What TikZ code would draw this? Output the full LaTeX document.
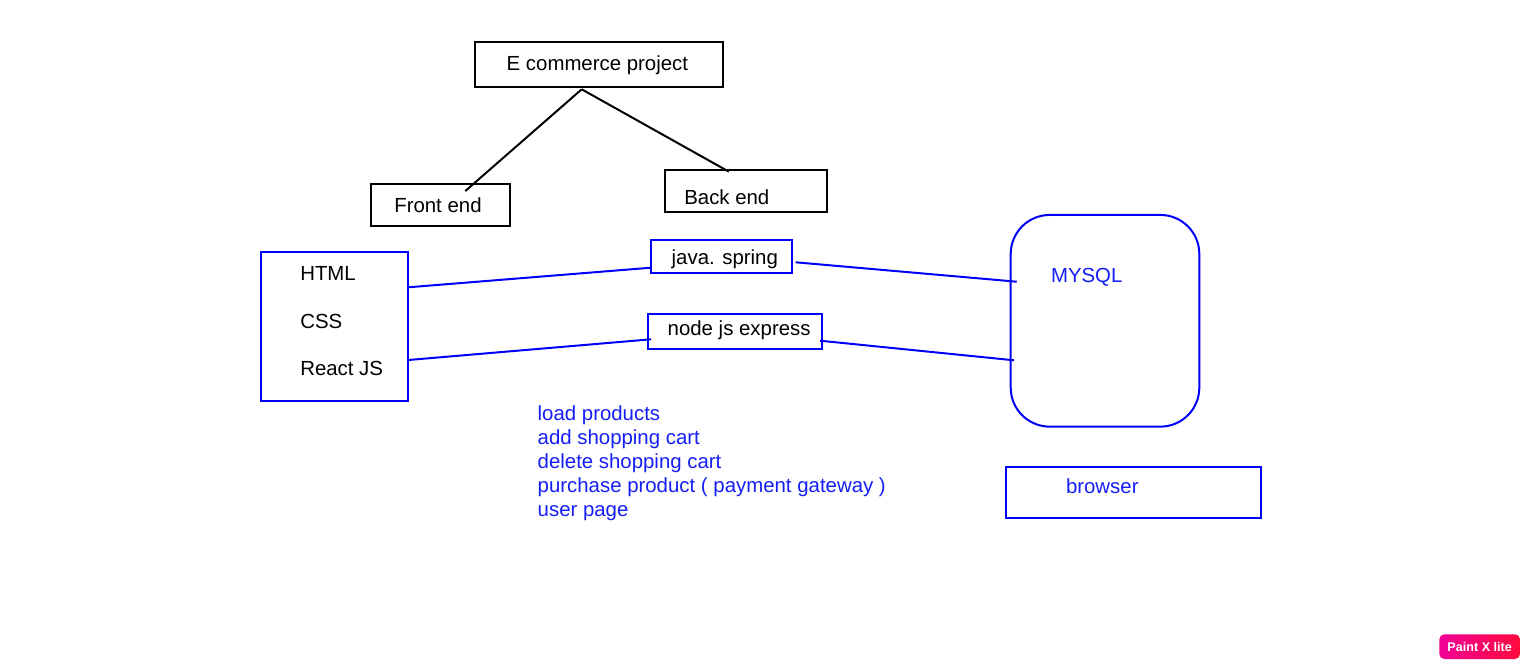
\documentclass[tikz,border=0pt]{standalone}
\usepackage{fontspec}
\setmainfont{Liberation Sans}
\usetikzlibrary{calc}
\definecolor{penblue}{RGB}{0,0,250}
\definecolor{inkblue}{RGB}{20,30,245}
\definecolor{badgeleft}{RGB}{240,0,150}
\definecolor{badgeright}{RGB}{255,10,60}
\begin{document}
\begin{tikzpicture}[x=0.5pt, y=-0.5pt, line width=1pt,
    box/.style = {draw, rectangle, inner sep=0pt, outer sep=0pt},
    bluebox/.style = {box, draw=penblue},
    txt/.style = {anchor=base west, inner sep=0pt, font=\fontsize{10.2}{12}\selectfont},
    bluetxt/.style = {txt, text=inkblue},
    link/.style = {draw=penblue}]
    \useasboundingbox (0,0) rectangle (1530,668);
    % project tree
    \node[box, minimum width=124pt, minimum height=22.5pt] (ecom) at (599,65) {};
    \node[box, minimum width=69.5pt, minimum height=21pt] (front) at (440.5,205) {};
    \node[box, minimum width=80.75pt, minimum height=20.85pt] (back) at (745.75,190.85) {};
    \node[txt] (ecomtxt) at (505.7,71) {E commerce project};
    \node[txt] (fronttxt) at (393.3,212.7) {Front end};
    \node[txt] (backtxt) at (683.3,205) {Back end};
    \coordinate (apex) at ($(ecom.south)+(-17.3,1.8)$);
    \draw (apex) -- ($(front.north)+(24.8,7)$);
    \draw (apex) -- ($(back.north)+(-16.85,1.7)$);
    % front end stack
    \node[bluebox, minimum width=73.8pt, minimum height=74.2pt] (stack) at (334.5,326.5) {};
    \node[txt] (html) at (299.3,280) {HTML};
    \node[txt] (css) at (299.3,328.3) {CSS};
    \node[txt] (react) at (299.3,375.7) {React JS};
    % back end servers
    \node[bluebox, minimum width=70.65pt, minimum height=16.35pt] (java) at (721.6,256.3) {};
    \node[bluebox, minimum width=87.3pt, minimum height=17.65pt] (nodejs) at (735,331.7) {};
    \node[txt] (javatxt) at (670.7,264) {java. spring};
    \node[txt] (nodetxt) at (666.7,335) {node js express};
    % database and browser
    \node[bluebox, rounded corners=19.5pt, minimum width=94.3pt, minimum height=105.85pt] (mysql) at (1105,320.8) {};
    \node[bluetxt] (mysqltxt) at (1050,282.7) {MYSQL};
    \node[bluebox, minimum width=127.65pt, minimum height=25.5pt] (browser) at (1133.35,492.2) {};
    \node[bluetxt] (browsertxt) at (1065,493.3) {browser};
    % links
    \draw[link] ($(stack.east)+(0,-39.2)$) -- ($(java.west)+(0,11.4)$);
    \draw[link] ($(java.east)+(3.4,6)$) -- ($(mysql.west)+(6,-39.1)$);
    \draw[link] ($(stack.east)+(0,33.5)$) -- ($(nodejs.west)+(3.3,7.6)$);
    \draw[link] ($(nodejs.east)+(-2.3,9)$) -- ($(mysql.west)+(3.3,39.5)$);
    % features
    \node[bluetxt] (load) at (536.7,420) {load products};
    \node[bluetxt] (addcart) at (536.7,444) {add shopping cart};
    \node[bluetxt] (delcart) at (536.7,468) {delete shopping cart};
    \node[bluetxt] (purchase) at (536.7,492) {purchase product ( payment gateway )};
    \node[bluetxt] (userpage) at (536.7,516) {user page};
    % watermark
    \node[rounded corners=2.5pt, left color=badgeleft, right color=badgeright, minimum width=40.35pt, minimum height=12.35pt, inner sep=0pt] (badge) at (1479.65,646.65) {};
    \node[text=white, inner sep=0pt, font=\fontsize{6.3}{7}\bfseries\selectfont] (badgetxt) at (badge.center) {Paint X lite};
\end{tikzpicture}
\end{document}
